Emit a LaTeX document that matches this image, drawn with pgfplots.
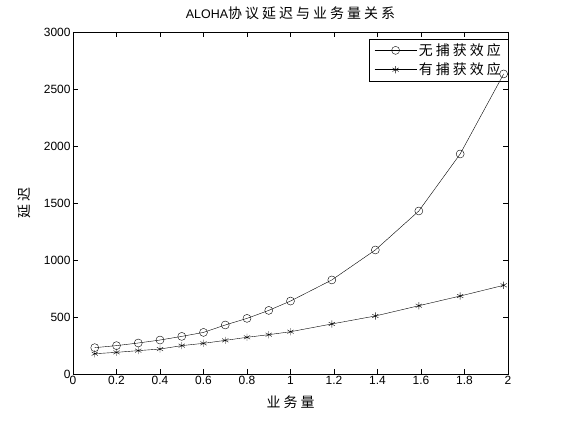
\documentclass[border=0pt]{standalone}
\usepackage{pgfplots}
\pgfplotsset{compat=1.18}
\usepackage{fontspec}
\setmainfont{Liberation Sans}
\newfontfamily\cjk[LetterSpace=22]{Noto Sans CJK SC}
\begin{document}
\begin{tikzpicture}[x=1bp,y=1bp]
\begin{axis}[
  scale only axis, width=435bp, height=342bp,
  at={(0,0)}, anchor=south west,
  xmin=0, xmax=2, ymin=0, ymax=3000,
  xtick={0,0.2,...,2}, ytick={0,500,...,3000},
  xticklabels={0,0.2,0.4,0.6,0.8,1,1.2,1.4,1.6,1.8,2},
  scaled y ticks=false,
  yticklabel style={/pgf/number format/1000 sep={}, xshift=1bp},
  xticklabel style={yshift=1bp},
  /pgf/number format/assume math mode=true,
  tick align=inside, tick style={black, thin}, major tick length=5bp,
  ticklabel style={font=\fontsize{12}{13}\selectfont},
  axis line style={black, thin},
  title={\fontsize{12.5}{14}\selectfont ALOHA{\cjk\fontsize{14}{16}\selectfont 协议延迟与业务量关系}},
  title style={yshift=3bp},
  xlabel={\cjk 业务量}, ylabel={\cjk 延迟},
  label style={font=\fontsize{14}{16}\selectfont},
  xlabel style={yshift=-4bp},
  ylabel style={yshift=6bp},
  legend style={at={(1,1)}, anchor=north east, yshift=-7bp, draw=black, fill=none,
    font=\cjk\fontsize{14}{16}\selectfont, inner xsep=5bp, inner ysep=2.5bp, row sep=2bp,
    cells={anchor=west}},
  legend image code/.code={\draw[mark repeat=2,mark phase=2,#1] plot coordinates {(0bp,0bp) (21bp,0bp) (42bp,0bp)};},
  legend cell align=left,
]
\addplot[black, thin, mark=o, mark size=4bp, mark options={thin}] coordinates {
(0.1,231) (0.2,249) (0.3,272) (0.4,298) (0.5,330) (0.6,365) (0.7,430) (0.8,488) (0.9,558) (1.0,640)
(1.19,825) (1.39,1088) (1.59,1430) (1.78,1930) (1.98,2632)};
\addlegendentry{无捕获效应}
\addplot[black, thin, mark=asterisk, mark size=3.6bp, mark options={thin}] coordinates {
(0.1,178) (0.2,190) (0.3,205) (0.4,219) (0.5,249) (0.6,269) (0.7,295) (0.8,322) (0.9,345) (1.0,371)
(1.19,439) (1.39,509) (1.59,599) (1.78,684) (1.98,778)};
\addlegendentry{有捕获效应}
\end{axis}
\path[use as bounding box] (-73,-46) rectangle (488,374);
\end{tikzpicture}
\end{document}
